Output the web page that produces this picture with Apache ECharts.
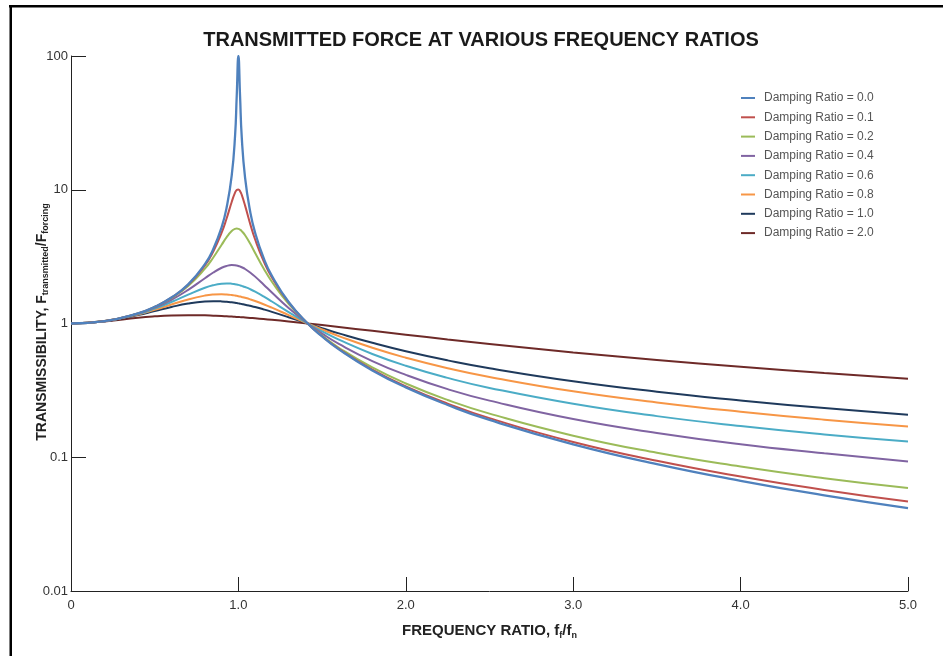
<!DOCTYPE html>
<html>
<head>
<meta charset="utf-8">
<script src="https://cdn.jsdelivr.net/npm/echarts@6/dist/echarts.min.js"></script>
<style>
  html, body { margin: 0; padding: 0; background: #fff; }
  #chart { width: 943px; height: 656px; }
</style>
</head>
<body>
<div id="chart"></div>
<script>
// Frequency ratio f_f / f_n at which each curve is sampled
const ratio = [0, 0.2, 0.4, 0.5, 0.6, 0.7, 0.8, 0.85, 0.9, 0.93,
  0.96, 0.98, 0.99, 1.0, 1.01, 1.02, 1.04, 1.07, 1.1, 1.15,
  1.2, 1.3, 1.414, 1.5, 1.6, 1.8, 2.0, 2.25, 2.5, 3.0,
  3.5, 4.0, 4.5, 5.0];

// Transmissibility for each damping ratio
const damp00 = [1, 1.042, 1.190, 1.333, 1.563, 1.961, 2.778, 3.604, 5.263, 7.402,
  12.76, 25.25, 50.25, 100, 49.75, 24.75, 12.25, 6.901, 4.762, 3.101,
  2.273, 1.449, 1, 0.800, 0.641, 0.446, 0.333, 0.246, 0.190, 0.125,
  0.0889, 0.0667, 0.0519, 0.0417];
const damp01 = [1, 1.042, 1.190, 1.332, 1.559, 1.947, 2.720, 3.458, 4.776, 6.123,
  8.105, 9.506, 9.951, 10.05, 9.760, 9.162, 7.606, 5.583, 4.244, 2.940,
  2.208, 1.436, 1, 0.803, 0.646, 0.452, 0.339, 0.252, 0.196, 0.130,
  0.0941, 0.0718, 0.0570, 0.0466];
const damp02 = [1, 1.042, 1.189, 1.328, 1.547, 1.909, 2.571, 3.117, 3.882, 4.425,
  4.910, 5.096, 5.123, 5.099, 5.026, 4.908, 4.571, 3.957, 3.367, 2.591,
  2.052, 1.401, 1, 0.812, 0.659, 0.469, 0.356, 0.268, 0.212, 0.145,
  0.108, 0.0853, 0.0698, 0.0589];
const damp04 = [1, 1.041, 1.184, 1.314, 1.505, 1.785, 2.180, 2.407, 2.611, 2.696,
  2.733, 2.726, 2.713, 2.693, 2.666, 2.634, 2.555, 2.407, 2.241, 1.959,
  1.704, 1.305, 1, 0.841, 0.704, 0.524, 0.413, 0.323, 0.265, 0.193,
  0.152, 0.125, 0.107, 0.0929];
const damp06 = [1, 1.041, 1.177, 1.293, 1.447, 1.642, 1.849, 1.933, 1.985, 1.995,
  1.985, 1.968, 1.957, 1.944, 1.929, 1.912, 1.873, 1.806, 1.730, 1.595,
  1.460, 1.218, 1, 0.873, 0.757, 0.592, 0.483, 0.392, 0.330, 0.251,
  0.203, 0.171, 0.148, 0.131];
const damp08 = [1, 1.041, 1.168, 1.267, 1.387, 1.513, 1.617, 1.647, 1.655, 1.648,
  1.633, 1.619, 1.610, 1.601, 1.591, 1.580, 1.556, 1.516, 1.472, 1.394,
  1.313, 1.156, 1, 0.902, 0.805, 0.658, 0.555, 0.463, 0.398, 0.311,
  0.257, 0.219, 0.191, 0.170];
const damp10 = [1, 1.040, 1.158, 1.240, 1.329, 1.409, 1.460, 1.468, 1.463, 1.453,
  1.439, 1.428, 1.421, 1.414, 1.407, 1.399, 1.383, 1.356, 1.328, 1.276,
  1.222, 1.114, 1, 0.923, 0.844, 0.717, 0.620, 0.530, 0.463, 0.370,
  0.309, 0.266, 0.233, 0.208];
const damp20 = [1, 1.036, 1.104, 1.131, 1.149, 1.155, 1.151, 1.145, 1.138, 1.132,
  1.127, 1.122, 1.120, 1.118, 1.116, 1.114, 1.109, 1.101, 1.094, 1.080,
  1.066, 1.036, 1, 0.973, 0.942, 0.881, 0.825, 0.760, 0.703, 0.608,
  0.534, 0.474, 0.426, 0.387];

const seriesNames = ['Damping Ratio = 0.0', 'Damping Ratio = 0.1', 'Damping Ratio = 0.2',
  'Damping Ratio = 0.4', 'Damping Ratio = 0.6', 'Damping Ratio = 0.8',
  'Damping Ratio = 1.0', 'Damping Ratio = 2.0'];
const seriesValues = [damp00, damp01, damp02, damp04, damp06, damp08, damp10, damp20];
const seriesColors = ['#4f81bd', '#c0504d', '#9bbb59', '#8064a2', '#4bacc6', '#f79646', '#1f3a5c', '#6e2a28'];

const xTickLabels = ['0', '1.0', '2.0', '3.0', '4.0', '5.0'];
const yTickLabels = { 0.01: '0.01', 0.1: '0.1', 1: '1', 10: '10', 100: '100' };

const FONT = '"Liberation Sans", Arial, sans-serif';

const chart = echarts.init(document.getElementById('chart'), null, { renderer: 'canvas' });

const series = seriesNames.map((name, i) => ({
  name: name,
  type: 'line',
  data: ratio.map((r, k) => [r, seriesValues[i][k]]),
  showSymbol: false,
  symbol: 'none',
  smooth: 0.5,
  clip: true,
  lineStyle: { width: i === 0 ? 2.3 : 2, color: seriesColors[i] },
  itemStyle: { color: seriesColors[i] },
  z: 10 - i,
  silent: true
}));

chart.setOption({
  backgroundColor: '#ffffff',
  animation: false,
  grid: { left: 71, right: 35, top: 56, bottom: 65, containLabel: false },
  legend: {
    orient: 'vertical',
    left: 736,
    top: 86,
    icon: 'rect',
    itemWidth: 14,
    itemHeight: 2,
    itemGap: 5.3,
    data: seriesNames,
    textStyle: { fontFamily: FONT, fontSize: 12, color: '#555', lineHeight: 14, padding: [0, 0, 0, 4] }
  },
  xAxis: {
    type: 'value',
    min: 0,
    max: 5,
    interval: 1,
    name: '{b|FREQUENCY RATIO, f}{s|f}{b|/f}{s|n}',
    nameLocation: 'middle',
    nameGap: 31,
    nameTextStyle: {
      rich: {
        b: { fontFamily: FONT, fontSize: 15, fontWeight: 'bold', color: '#222', lineHeight: 18 },
        s: { fontFamily: FONT, fontSize: 9, fontWeight: 'bold', color: '#222', lineHeight: 11, verticalAlign: 'bottom' }
      }
    },
    axisLine: { lineStyle: { color: '#222', width: 1 } },
    axisTick: { inside: true, length: 14, lineStyle: { color: '#222' } },
    axisLabel: {
      margin: 8,
      fontFamily: FONT,
      fontSize: 13,
      color: '#333',
      formatter: (v) => xTickLabels[Math.round(v)]
    },
    splitLine: { show: false }
  },
  yAxis: {
    type: 'log',
    logBase: 10,
    min: 0.01,
    max: 100,
    axisLine: { show: true, lineStyle: { color: '#222', width: 1 } },
    axisTick: { show: true, inside: true, length: 15, lineStyle: { color: '#222' } },
    axisLabel: {
      margin: 3,
      fontFamily: FONT,
      fontSize: 13,
      color: '#333',
      formatter: (v) => yTickLabels[v] !== undefined ? yTickLabels[v] : String(v)
    },
    splitLine: { show: false }
  },
  graphic: [
    // frame edges
    { type: 'rect', shape: { x: 9, y: 5, width: 934, height: 2.5 }, style: { fill: '#000' }, silent: true },
    { type: 'rect', shape: { x: 9.5, y: 5, width: 2.5, height: 651 }, style: { fill: '#000' }, silent: true },
    // chart title
    {
      type: 'text',
      x: 481,
      y: 40,
      style: {
        text: 'TRANSMITTED FORCE AT VARIOUS FREQUENCY RATIOS',
        fontFamily: FONT,
        fontSize: 20,
        fontWeight: 'bold',
        fill: '#1a1a1a',
        align: 'center',
        verticalAlign: 'middle'
      },
      silent: true
    },
    // vertical axis title
    {
      type: 'text',
      x: 42,
      y: 322,
      rotation: Math.PI / 2,
      style: {
        text: '{b|TRANSMISSIBILITY, F}{s|transmitted}{b|/F}{s|forcing}',
        align: 'center',
        verticalAlign: 'middle',
        rich: {
          b: { fontFamily: FONT, fontSize: 14, fontWeight: 'bold', fill: '#222', lineHeight: 17 },
          s: { fontFamily: FONT, fontSize: 9, fontWeight: 'bold', fill: '#222', lineHeight: 11, verticalAlign: 'bottom' }
        }
      },
      silent: true
    }
  ],
  series: series
});
</script>
</body>
</html>
